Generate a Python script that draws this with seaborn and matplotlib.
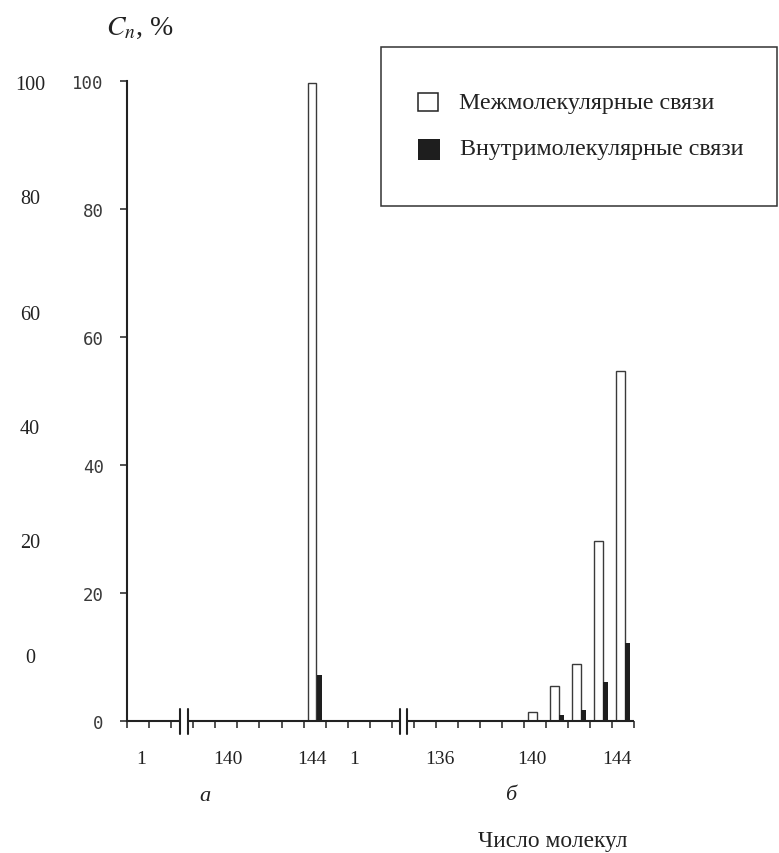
import numpy as np
import pandas as pd
import matplotlib
matplotlib.use("Agg")
import matplotlib.pyplot as plt
import seaborn as sns
from matplotlib.patches import Rectangle

# ---------------- data ----------------
series_names = ["Межмолекулярные связи", "Внутримолекулярные связи"]
panel_a_n = [144]
panel_a_inter = [99.6]
panel_a_intra = [7.2]
panel_b_n = [140, 141, 142, 143, 144]
panel_b_inter = [1.3, 5.4, 8.9, 28.1, 54.6]
panel_b_intra = [0.0, 0.9, 1.7, 6.0, 12.1]
xtick_labels = ["1", "140", "144", "1", "136", "140", "144"]
ytick_values = [0, 20, 40, 60, 80, 100]
outer_ylabels = ["100", "80", "60", "40", "20", "0"]
panel_labels = ["а", "б"]
x_title = "Число молекул"
y_title = r"$C_n$, %"

# ---------------- layout helpers ----------------
W, H = 779, 854
def fx(px):
    return px / W
def fy(py):
    return 1 - py / H

def slot_a(n):
    return 3 + (n - 139)
def slot_b(n):
    return 13 + (n - 135)

WHITE_OFF, BLACK_OFF = 0.39, 0.71

rows_w, rows_k = [], []
for n, v in zip(panel_a_n, panel_a_inter):
    rows_w.append((slot_a(n) + WHITE_OFF, v, series_names[0]))
for n, v in zip(panel_b_n, panel_b_inter):
    rows_w.append((slot_b(n) + WHITE_OFF, v, series_names[0]))
for n, v in zip(panel_a_n, panel_a_intra):
    rows_k.append((slot_a(n) + BLACK_OFF, v, series_names[1]))
for n, v in zip(panel_b_n, panel_b_intra):
    rows_k.append((slot_b(n) + BLACK_OFF, v, series_names[1]))
df_w = pd.DataFrame(rows_w, columns=["pos", "value", "series"])
df_k = pd.DataFrame(rows_k, columns=["pos", "value", "series"])

# ---------------- style ----------------
sns.set_theme(style="ticks")
plt.rcParams["font.family"] = ["Liberation Serif", "DejaVu Serif"]
plt.rcParams["mathtext.fontset"] = "stix"
INK = "#222222"

fig = plt.figure(figsize=(W / 100, H / 100), dpi=100)
x0, x1 = 127.3, 634.0
y0, y1 = 721.7, 81.7
ax = fig.add_axes([fx(x0), fy(y0), fx(x1) - fx(x0), (y0 - y1) / H])

sns.barplot(data=df_w, x="pos", y="value", native_scale=True, width=0.38,
            color="white", edgecolor="#3a3a3a", linewidth=1.0, saturation=1,
            errorbar=None, ax=ax, zorder=2)
sns.barplot(data=df_k, x="pos", y="value", native_scale=True, width=0.24,
            color="#1e1e1e", linewidth=0, saturation=1,
            errorbar=None, ax=ax, zorder=2)

ax.set_xlim(0, 23)
ax.set_ylim(0, 100)
ax.set_xlabel("")
ax.set_ylabel("")

for s in ["top", "right", "bottom"]:
    ax.spines[s].set_visible(False)
ax.spines["left"].set_linewidth(1.5)
ax.spines["left"].set_color(INK)

# bottom axis line with breaks
breaks = [(2.39, 2.74), (12.38, 12.71)]
segs = [(0, breaks[0][0]), (breaks[0][1], breaks[1][0]), (breaks[1][1], 23)]
for a, b in segs:
    ax.plot([a, b], [0, 0], color=INK, lw=1.5, clip_on=False, zorder=3,
            solid_capstyle="butt")
for a, b in breaks:
    for xb in (a, b):
        ax.plot([xb, xb], [-2.0, 1.9], color=INK, lw=1.5, clip_on=False, zorder=3)

# ticks
ax.set_xticks(np.arange(0, 24))
ax.set_xticklabels([])
ax.set_xticks([0.61, 4.55, 8.37, 10.30, 14.19, 18.36, 22.22], xtick_labels, minor=True)
ax.tick_params(axis="x", which="major", length=5, width=1.1, direction="out",
               color=INK, bottom=True)
ax.tick_params(axis="x", which="minor", length=0, pad=21, labelsize=14, labelcolor=INK)

ax.set_yticks(ytick_values)
ax.set_yticklabels([str(v) for v in ytick_values])
ax.tick_params(axis="y", length=5, width=1.1, direction="out", pad=12,
               labelsize=12.5, color=INK, labelcolor="#3a3a3a", left=True)
for lab in ax.get_yticklabels():
    lab.set_fontfamily("DejaVu Sans Mono")

# outer (scanned) serif y labels
for lab, py in zip(outer_ylabels, [85, 200, 315, 430, 543, 659]):
    fig.text(fx(30), fy(py), lab, ha="center", va="center", fontsize=14.5, color=INK)

# y title
fig.text(fx(140), fy(28), y_title, ha="center", va="center", fontsize=20, color=INK)

# panel labels and x title
fig.text(fx(205), fy(797), panel_labels[0], ha="center", va="center",
         fontsize=16, style="italic", color=INK)
fig.text(fx(511), fy(796), panel_labels[1], ha="center", va="center",
         fontsize=16, style="italic", color=INK)
fig.text(fx(553), fy(842), x_title, ha="center", va="center", fontsize=16.8, color=INK)

# legend box
fig.patches.append(Rectangle((fx(381), fy(207)), fx(777) - fx(381), (207 - 48) / H,
                             transform=fig.transFigure, fill=False, lw=1.1, ec="#333333"))
fig.patches.append(Rectangle((fx(418), fy(112)), 20 / W, 18 / H, transform=fig.transFigure,
                             fc="white", ec=INK, lw=1.1))
fig.patches.append(Rectangle((fx(418), fy(161)), 22 / W, 21 / H, transform=fig.transFigure,
                             fc="#1e1e1e", ec="none"))
fig.text(fx(459), fy(103), series_names[0], ha="left", va="center", fontsize=17.3, color=INK)
fig.text(fx(460), fy(150), series_names[1], ha="left", va="center", fontsize=17.3, color=INK)

fig.savefig("out.png", dpi=100)
